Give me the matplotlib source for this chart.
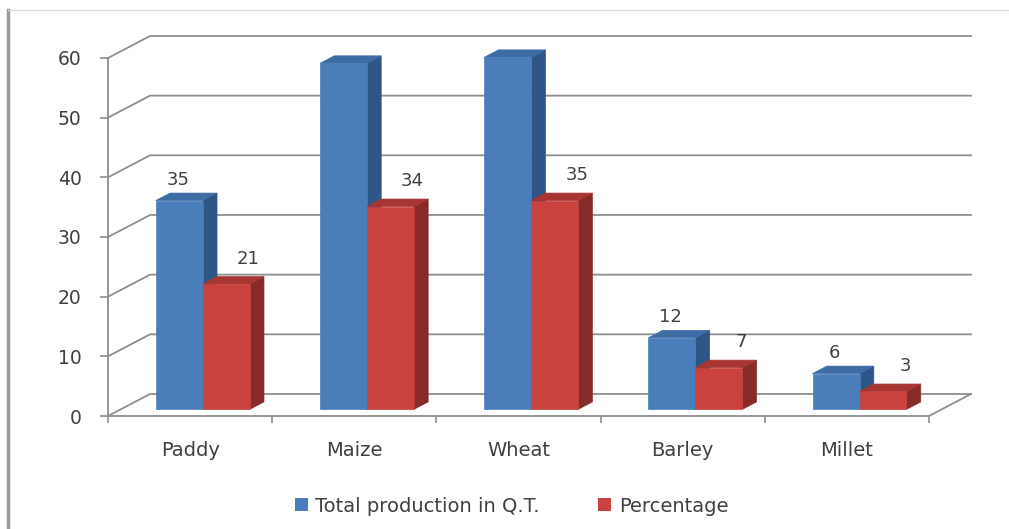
# Crop production chart - Excel-style 3D clustered columns
import matplotlib.pyplot as plt
from matplotlib.patches import Polygon, Patch
from matplotlib.lines import Line2D

crops = ['Paddy', 'Maize', 'Wheat', 'Barley', 'Millet']
production = [35, 58, 59, 12, 6]   # Total production in Q.T.
percentage = [21, 34, 35, 7, 3]
y_ticks = [0, 10, 20, 30, 40, 50, 60]

blue = {'front': '#4A7EBB', 'side': '#2D5686', 'top': '#3E6DA6'}
red = {'front': '#C9423E', 'side': '#872B29', 'top': '#A73633'}
grid_col = '#8e8e8e'
text_col = '#404040'

# oblique depth of the chart box (data units) and bar placement in depth
DX, DY = 0.256, 3.69
F0, F1 = 0.30, 0.64
BAR_W = 0.286

fig = plt.figure(figsize=(10.09, 5.29), dpi=100)
ax = fig.add_axes([108 / 1009, 113 / 529, 821 / 1009, 358 / 529])
ax.set_xlim(0, len(crops))
ax.set_ylim(0, 60)

# back wall gridlines + side wall diagonals
for v in y_ticks:
    ax.plot([0, DX, len(crops) + DX], [v, v + DY, v + DY],
            color=grid_col, lw=1.3, clip_on=False, zorder=1)
# right edge of the floor
ax.plot([len(crops), len(crops) + DX], [0, DY], color=grid_col, lw=1.3,
        clip_on=False, zorder=1)


def draw_bar(x0, h, cols):
    ox, oy = F0 * DX, F0 * DY
    bx, by = (F1 - F0) * DX, (F1 - F0) * DY
    xl, xr = x0 + ox, x0 + BAR_W + ox
    front = [(xl, oy), (xr, oy), (xr, h + oy), (xl, h + oy)]
    side = [(xr, oy), (xr + bx, oy + by), (xr + bx, h + oy + by), (xr, h + oy)]
    top = [(xl, h + oy), (xr, h + oy), (xr + bx, h + oy + by), (xl + bx, h + oy + by)]
    for pts, key in [(side, 'side'), (top, 'top'), (front, 'front')]:
        ax.add_patch(Polygon(pts, closed=True, facecolor=cols[key],
                             edgecolor=cols[key], lw=0.5, clip_on=False, zorder=3))
    return (xl + xr) / 2, h + F1 * DY


for i in range(len(crops)):
    c = i + 0.5
    bx_, by_ = draw_bar(c - BAR_W, production[i], blue)
    ax.annotate(str(production[i]), (bx_, by_), xytext=(-1, 9.5),
                textcoords='offset points', ha='center', va='center',
                fontsize=13, color=text_col, zorder=5)
    rx_, ry_ = draw_bar(c, percentage[i], red)
    ax.annotate(str(percentage[i]), (rx_, ry_), xytext=(16, 13),
                textcoords='offset points', ha='center', va='center',
                fontsize=13, color=text_col, zorder=5)

# axes styling
for s in ['top', 'right']:
    ax.spines[s].set_visible(False)
for s in ['left', 'bottom']:
    ax.spines[s].set_color(grid_col)
    ax.spines[s].set_linewidth(1.3)
ax.set_yticks(y_ticks)
ax.tick_params(axis='y', colors=grid_col, labelcolor=text_col, length=6,
               width=1.2, pad=13, labelsize=13.5)
ax.set_xticks([i + 0.5 for i in range(len(crops))])
ax.set_xticklabels(crops)
ax.set_xticks(range(len(crops) + 1), minor=True)
ax.tick_params(axis='x', which='major', length=0, pad=18, labelsize=14,
               labelcolor=text_col)
ax.tick_params(axis='x', which='minor', length=5, width=1.2, colors=grid_col)
ax.patch.set_alpha(0)

# legend
handles = [Patch(facecolor=blue['front'], label='Total production in Q.T.'),
           Patch(facecolor=red['front'], label='Percentage')]
fig.legend(handles=handles, loc='center', bbox_to_anchor=(0.507, 0.043),
           ncol=2, frameon=False, handlelength=0.65, handleheight=0.65,
           handletextpad=0.4, columnspacing=3.0, fontsize=14,
           labelcolor=text_col)

# chart area border
fig.add_artist(Line2D([8 / 1009, 8 / 1009], [0, 1 - 10 / 529],
                      transform=fig.transFigure, color='#9a9a9a', lw=2.5))
fig.add_artist(Line2D([8 / 1009, 1], [1 - 10 / 529, 1 - 10 / 529],
                      transform=fig.transFigure, color='#d8d8d8', lw=1))

fig.savefig('out.png', dpi=100)
